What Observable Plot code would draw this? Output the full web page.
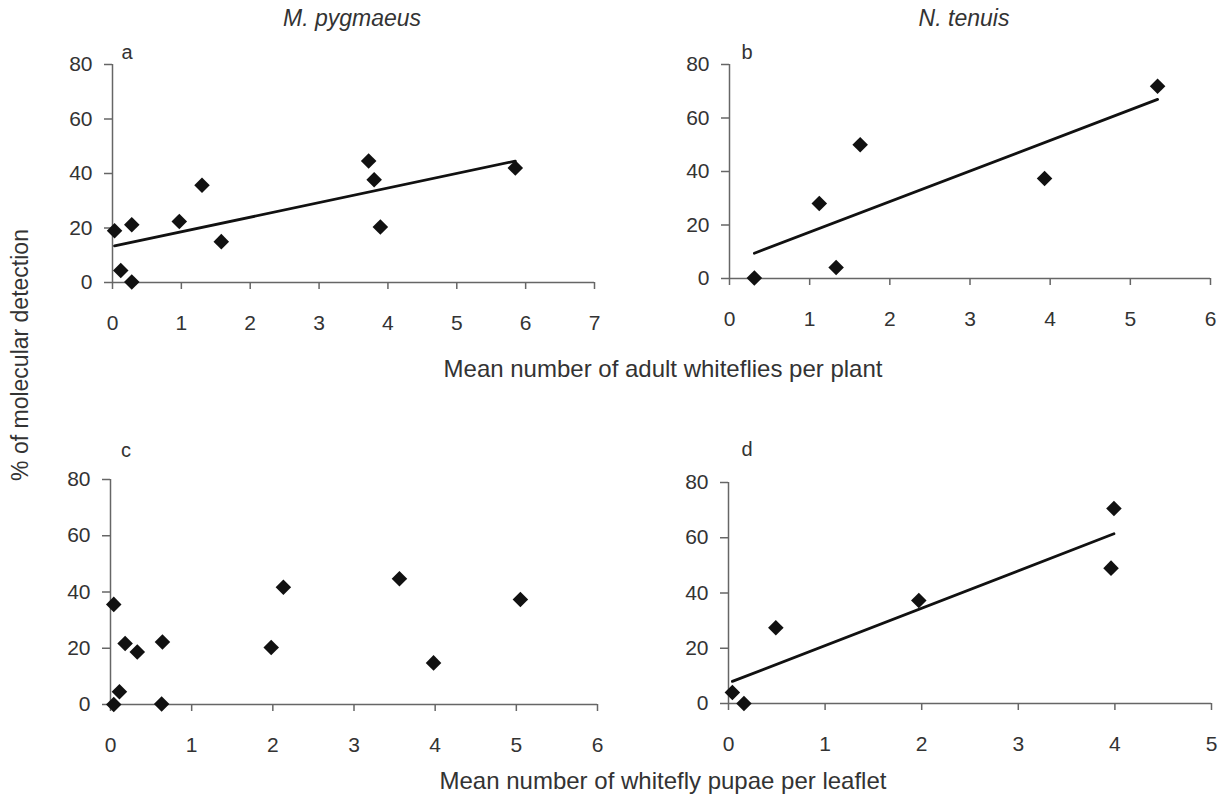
<!DOCTYPE html>
<html>
<head>
<meta charset="utf-8">
<script src="https://cdn.jsdelivr.net/npm/d3@7"></script>
<script src="https://cdn.jsdelivr.net/npm/@observablehq/plot@0.6"></script>
<style>
  html, body { margin: 0; padding: 0; background: #fff; }
  #root { position: relative; width: 1227px; height: 797px; background: #fff; overflow: hidden;
          font-family: "Liberation Sans", Arial, Helvetica, sans-serif; color: #333; }
  .lbl { position: absolute; line-height: 1; white-space: nowrap; transform: translate(-50%, -50%); }
  .panel { position: absolute; }
</style>
</head>
<body>
<div id="root"></div>
<script>
// ---- Data ----
// Panel a: M. pygmaeus vs adult whiteflies per plant
const adultsMp = [0.03, 0.12, 0.28, 0.28, 0.97, 1.30, 1.58, 3.72, 3.80, 3.89, 5.85];
const detectAdultsMp = [19.0, 4.4, 0.2, 21.2, 22.4, 35.7, 15.0, 44.6, 37.7, 20.4, 42.0];
// Panel b: N. tenuis vs adult whiteflies per plant
const adultsNt = [0.31, 1.12, 1.33, 1.63, 3.93, 5.34];
const detectAdultsNt = [0.2, 28.0, 4.1, 50.0, 37.4, 71.9];
// Panel c: M. pygmaeus vs pupae per leaflet
const pupaeMp = [0.04, 0.04, 0.11, 0.18, 0.33, 0.64, 0.63, 1.98, 2.13, 3.56, 3.98, 5.05];
const detectPupaeMp = [35.6, 0.0, 4.5, 21.7, 18.7, 22.2, 0.2, 20.3, 41.7, 44.7, 14.8, 37.3];
// Panel d: N. tenuis vs pupae per leaflet
const pupaeNt = [0.04, 0.16, 0.49, 1.97, 3.96, 3.99];
const detectPupaeNt = [4.0, 0.0, 27.4, 37.3, 49.0, 70.6];

// Tick values
const yTicks = [0, 20, 40, 60, 80];
const xTicksA = [0, 1, 2, 3, 4, 5, 6, 7];
const xTicksB = [0, 1, 2, 3, 4, 5, 6];
const xTicksC = [0, 1, 2, 3, 4, 5, 6];
const xTicksD = [0, 1, 2, 3, 4, 5];

// Text
const speciesTitles = ["M. pygmaeus", "N. tenuis"];
const panelLetters = ["a", "b", "c", "d"];
const xTitles = ["Mean number of adult whiteflies per plant", "Mean number of whitefly pupae per leaflet"];
const yTitle = "% of molecular detection";

// ---- Drawing ----
const axisColor = "#666";
const textColor = "#333";
const root = document.getElementById("root");
const fmt = d3.format("d");

function panel(xs, ys, xTicks, trend, box) {
  const data = xs.map((x, i) => ({x, y: ys[i]}));
  const marks = [
    Plot.ruleY([0], {stroke: axisColor, strokeWidth: 1.5}),
    Plot.ruleX([0], {stroke: axisColor, strokeWidth: 1.5}),
    Plot.axisX({ticks: xTicks, tickFormat: fmt, tickSize: 7, tickPadding: 26, stroke: axisColor, strokeWidth: 1.5,
                fill: textColor, fontSize: 21, label: null}),
    Plot.axisY({ticks: yTicks, tickFormat: fmt, tickSize: 8, tickPadding: 12, stroke: axisColor, strokeWidth: 1.5,
                fill: textColor, fontSize: 21, label: null})
  ];
  if (trend) {
    marks.push(Plot.linearRegressionY(data, {x: "x", y: "y", ci: 0, stroke: "#111", strokeWidth: 2.8}));
  }
  marks.push(Plot.dot(data, {x: "x", y: "y", symbol: "diamond2", r: 7, fill: "#111", stroke: null}));
  const svg = Plot.plot({
    width: box.w, height: box.h,
    marginLeft: box.ml, marginRight: box.mr, marginTop: box.mt, marginBottom: box.mb,
    x: {domain: [0, xTicks[xTicks.length - 1]], label: null},
    y: {domain: [0, 80], label: null},
    style: {fontSize: "21px", fontFamily: "'Liberation Sans', Arial, sans-serif", color: textColor,
            background: "transparent", overflow: "visible"},
    marks
  });
  svg.classList.add("panel");
  svg.style.left = box.left + "px";
  svg.style.top = box.top + "px";
  root.appendChild(svg);
}

panel(adultsMp, detectAdultsMp, xTicksA, true,
  {left: 0, top: 40, w: 620, h: 310, ml: 112, mr: 26, mt: 24, mb: 68});
panel(adultsNt, detectAdultsNt, xTicksB, true,
  {left: 620, top: 40, w: 607, h: 310, ml: 109, mr: 17, mt: 24, mb: 72});
panel(pupaeMp, detectPupaeMp, xTicksC, false,
  {left: 0, top: 440, w: 620, h: 320, ml: 110, mr: 23, mt: 39, mb: 56});
panel(pupaeNt, detectPupaeNt, xTicksD, true,
  {left: 620, top: 440, w: 607, h: 320, ml: 108, mr: 16, mt: 42, mb: 57});

function label(text, x, y, size, extra) {
  const d = document.createElement("div");
  d.className = "lbl";
  d.textContent = text;
  d.style.left = x + "px";
  d.style.top = y + "px";
  d.style.fontSize = size + "px";
  if (extra) Object.assign(d.style, extra);
  root.appendChild(d);
  return d;
}

label(speciesTitles[0], 352, 18, 23, {fontStyle: "italic"});
label(speciesTitles[1], 964, 18, 23, {fontStyle: "italic"});
label(panelLetters[0], 127, 52, 20);
label(panelLetters[1], 747, 52, 20);
label(panelLetters[2], 126, 450, 20);
label(panelLetters[3], 747, 449, 20);
label(xTitles[0], 663, 369, 24);
label(xTitles[1], 663, 781, 24);
label(yTitle, 20, 355, 23, {transform: "translate(-50%, -50%) rotate(-90deg)"});
</script>
</body>
</html>
